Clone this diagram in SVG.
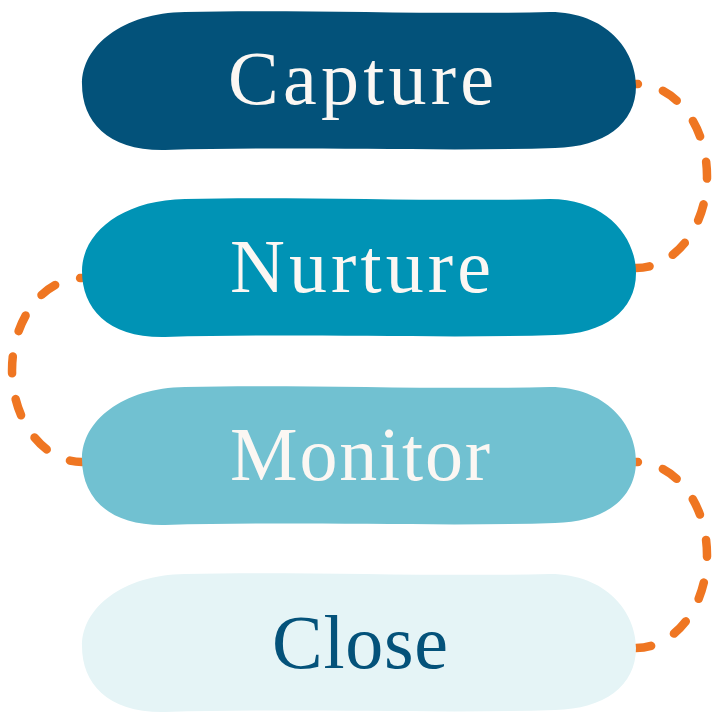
<svg xmlns="http://www.w3.org/2000/svg" width="720" height="720" viewBox="0 0 720 720">
<style>
.conn{fill:none;stroke:#EF7622;stroke-width:8.5;stroke-linecap:round;stroke-dasharray:17 26;stroke-dashoffset:15}
.lbl{font-family:"Liberation Serif","Times New Roman",serif;font-size:76px;text-anchor:start}
.light{fill:#FBF7F3}
.dark{fill:#04527A}
</style>
<defs>
<path id="blob" d="M 185 12 C 300 9, 430 15, 550 12 C 606 12, 636 50, 636 86 C 636 124, 604 147, 555 148 C 440 152, 300 146, 165 150 C 108 151, 82 122, 82 84 C 82 46, 122 13, 185 12 Z"/>
</defs>
<rect width="720" height="720" fill="#FFFFFF"/>
<g id="connectors">
<path class="conn" d="M 636 84 A 71 92 0 0 1 636 268"/>
<path class="conn" d="M 82 278 A 70 92 0 0 0 82 462"/>
<path class="conn" d="M 636 462 A 71 93 0 0 1 636 648"/>
</g>
<g id="node-capture">
<use href="#blob" fill="#03527A"/>
<text class="lbl light" x="228" y="104" textLength="266" lengthAdjust="spacing">Capture</text>
</g>
<g id="node-nurture">
<use href="#blob" fill="#0093B5" transform="translate(0,187)"/>
<text class="lbl light" x="230" y="292" textLength="261" lengthAdjust="spacing">Nurture</text>
</g>
<g id="node-monitor">
<use href="#blob" fill="#71C1D1" transform="translate(0,375)"/>
<text class="lbl light" x="230" y="480" textLength="260" lengthAdjust="spacing">Monitor</text>
</g>
<g id="node-close">
<use href="#blob" fill="#E5F4F6" transform="translate(0,562)"/>
<text class="lbl dark" x="272" y="668" textLength="176" lengthAdjust="spacing">Close</text>
</g>
</svg>
